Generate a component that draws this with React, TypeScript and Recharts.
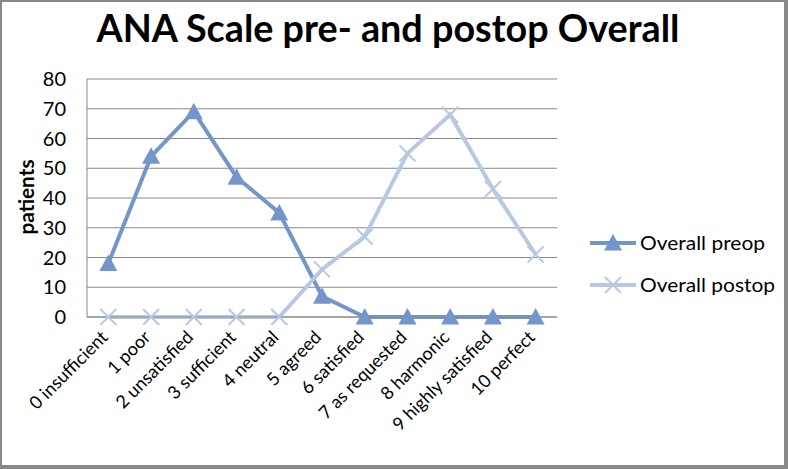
import React from 'react';
import { LineChart, Line, XAxis, YAxis, CartesianGrid, Legend } from 'recharts';

const categories = [
  '0 insufficient',
  '1 poor',
  '2 unsatisfied',
  '3 sufficient',
  '4 neutral',
  '5 agreed',
  '6 satisfied',
  '7 as requested',
  '8 harmonic',
  '9 highly satisfied',
  '10 perfect',
];
const preop = [18, 54, 69, 47, 35, 7, 0, 0, 0, 0, 0];
const postop = [0, 0, 0, 0, 0, 16, 27, 55, 68, 43, 21];
const yTicks = [0, 10, 20, 30, 40, 50, 60, 70, 80];
const seriesNames = ['Overall preop', 'Overall postop'];
const title = 'ANA Scale pre- and postop Overall';
const yLabel = 'patients';

const data = categories.map((c, i) => ({ name: c, preop: preop[i], postop: postop[i] }));

const PRE = '#7396CA';
const POST = '#B8C8E3';
const GRID = '#888888';
const FONT = 'Lato, "Open Sans", sans-serif';

const Triangle = (props: any) => {
  const { cx, cy, fill } = props;
  if (cx == null || cy == null) return null;
  return (
    <polygon
      points={`${cx},${cy - 9} ${cx + 9},${cy + 7.5} ${cx - 9},${cy + 7.5}`}
      fill={fill}
    />
  );
};

const Cross = (props: any) => {
  const { cx, cy, stroke } = props;
  if (cx == null || cy == null) return null;
  const s = 8;
  return (
    <g stroke={stroke} strokeWidth={2}>
      <line x1={cx - s} y1={cy - s} x2={cx + s} y2={cy + s} />
      <line x1={cx - s} y1={cy + s} x2={cx + s} y2={cy - s} />
    </g>
  );
};

const XTick = (props: any) => {
  const { x, y, payload } = props;
  return (
    <g transform={`translate(${x - 4},${y + 9}) rotate(-45)`}>
      <text x={0} y={0} dy="0.35em" textAnchor="end" fontFamily={FONT} fontSize={18} fill="#000">
        {payload.value}
      </text>
    </g>
  );
};

const renderLegend = () => (
  <svg width={200} height={90} style={{ display: 'block' }}>
    <line x1={5} y1={25} x2={51} y2={25} stroke={PRE} strokeWidth={4} />
    <Triangle cx={28} cy={25} fill={PRE} />
    <text x={55} y={25} dy="0.35em" fontFamily={FONT} fontSize={20} textLength={125} lengthAdjust="spacingAndGlyphs" fill="#000">
      {seriesNames[0]}
    </text>
    <line x1={5} y1={67} x2={51} y2={67} stroke={POST} strokeWidth={4} />
    <Cross cx={28} cy={67} stroke={POST} />
    <text x={55} y={67} dy="0.35em" fontFamily={FONT} fontSize={20} textLength={135} lengthAdjust="spacingAndGlyphs" fill="#000">
      {seriesNames[1]}
    </text>
  </svg>
);

const YLabel = () => (
  <text
    x={25}
    y={197}
    transform="rotate(-90, 25, 197)"
    textAnchor="middle"
    dominantBaseline="central"
    fontFamily={FONT}
    fontWeight="bold"
    fontSize={21}
    textLength={75}
    lengthAdjust="spacingAndGlyphs"
    fill="#000"
  >
    {yLabel}
  </text>
);

export default function App() {
  return (
    <div style={{ position: 'fixed', left: 0, top: 0, width: 788, height: 469, background: '#fff' }}>
      <LineChart
        width={788}
        height={469}
        data={data}
        margin={{ top: 79, right: 31, bottom: 0, left: 0 }}
      >
        <CartesianGrid vertical={false} stroke={GRID} strokeWidth={1} />
        <XAxis
          dataKey="name"
          scale="band"
          interval={0}
          height={152}
          tickLine={false}
          axisLine={{ stroke: GRID }}
          tick={<XTick />}
        />
        <YAxis
          domain={[0, 80]}
          ticks={yTicks}
          width={87}
          tickLine={false}
          tickSize={0}
          tickMargin={21}
          axisLine={{ stroke: GRID }}
          tick={{ fontFamily: FONT, fontSize: 20, fill: '#000' }}
          label={<YLabel />}
        />
        <Legend
          layout="vertical"
          align="right"
          verticalAlign="middle"
          content={renderLegend}
          wrapperStyle={{ left: 585, top: 218, width: 200, height: 90 }}
        />
        <Line
          type="linear"
          dataKey="preop"
          name={seriesNames[0]}
          stroke={PRE}
          strokeWidth={4}
          isAnimationActive={false}
          dot={(p: any) => <Triangle key={`t${p.index}`} cx={p.cx} cy={p.cy} fill={PRE} />}
          activeDot={false}
        />
        <Line
          type="linear"
          dataKey="postop"
          name={seriesNames[1]}
          stroke={POST}
          strokeWidth={4}
          isAnimationActive={false}
          dot={(p: any) => <Cross key={`c${p.index}`} cx={p.cx} cy={p.cy} stroke={POST} />}
          activeDot={false}
        />
      </LineChart>
      <svg
        width={788}
        height={70}
        style={{ position: 'absolute', left: 0, top: 0, pointerEvents: 'none' }}
      >
        <text
          x={388}
          y={42}
          textAnchor="middle"
          fontFamily={FONT}
          fontWeight="bold"
          fontSize={38}
          textLength={583}
          lengthAdjust="spacingAndGlyphs"
          fill="#000"
        >
          {title}
        </text>
      </svg>
      <div
        style={{
          position: 'absolute',
          left: 0,
          top: 0,
          width: 788,
          height: 469,
          boxSizing: 'border-box',
          borderLeft: '2px solid #888',
          borderTop: '2px solid #888',
          borderRight: '4px solid #888',
          borderBottom: '4px solid #888',
          pointerEvents: 'none',
        }}
      />
    </div>
  );
}
